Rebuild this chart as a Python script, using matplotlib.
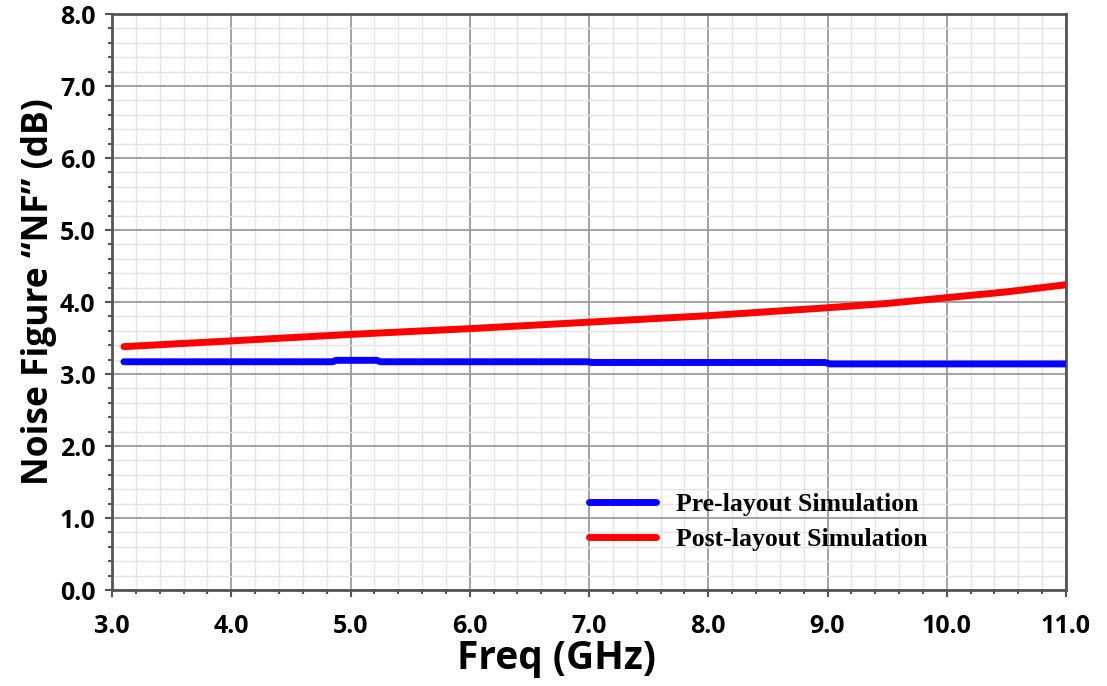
import matplotlib
matplotlib.use("Agg")
import matplotlib.pyplot as plt
from matplotlib.ticker import MultipleLocator

freq_post = [3.1, 4.0, 5.0, 6.0, 7.0, 8.0, 9.0, 9.5, 10.0, 10.5, 11.0]
nf_post = [3.38, 3.46, 3.55, 3.63, 3.72, 3.81, 3.92, 3.98, 4.06, 4.14, 4.24]

freq_pre = [3.1, 4.85, 4.88, 5.22, 5.25, 7.0, 7.02, 8.98, 9.02, 11.0]
nf_pre = [3.17, 3.17, 3.19, 3.19, 3.17, 3.17, 3.16, 3.16, 3.14, 3.14]

x_ticks = [3.0, 4.0, 5.0, 6.0, 7.0, 8.0, 9.0, 10.0, 11.0]
y_ticks = [0.0, 1.0, 2.0, 3.0, 4.0, 5.0, 6.0, 7.0, 8.0]

fig = plt.figure(figsize=(11.07, 6.86), dpi=100)
ax = fig.add_axes([112/1107, 1 - 590/686, (1066-112)/1107, (590-14)/686])

ax.plot(freq_pre, nf_pre, color="#0a00ff", lw=5, solid_capstyle="round", label="Pre-layout Simulation", zorder=3)
ax.plot(freq_post, nf_post, color="#ff0000", lw=5, solid_capstyle="round", label="Post-layout Simulation", zorder=3)

ax.set_xlim(3.0, 11.0)
ax.set_ylim(0.0, 8.0)
ax.set_xticks(x_ticks)
ax.set_yticks(y_ticks)
ax.set_xticklabels([f"{v:.1f}" for v in x_ticks])
ax.set_yticklabels([f"{v:.1f}" for v in y_ticks])
ax.xaxis.set_minor_locator(MultipleLocator(0.2))
ax.yaxis.set_minor_locator(MultipleLocator(0.2))
ax.grid(which="major", color="#9a9a9a", lw=1.3, zorder=1)
ax.grid(which="minor", color="#e4e4e4", lw=1.0, zorder=0)
ax.set_axisbelow(True)

for s in ax.spines.values():
    s.set_color("#555555")
    s.set_linewidth(2)

ax.tick_params(which="major", length=5, width=1.5, color="#555555")
ax.tick_params(which="minor", length=3, width=1.5, color="#555555")
ax.tick_params(axis="x", pad=12)
ax.tick_params(axis="y", pad=7)
for lab in ax.get_xticklabels() + ax.get_yticklabels():
    lab.set_fontfamily("Open Sans")
    lab.set_fontweight("bold")
    lab.set_fontsize(18)

ax.set_xlabel("Freq (GHz)", fontfamily="Open Sans", fontweight="bold", fontsize=28, labelpad=2)
ax.xaxis.set_label_coords((556-112)/(1066-112), -0.085)
ax.set_ylabel("Noise Figure \u201cNF\u201d (dB)", fontfamily="Open Sans", fontweight="bold", fontsize=25.5, labelpad=6)
ax.yaxis.set_label_coords(-0.058, (590-292)/(590-14))

leg = ax.legend(loc="upper left", bbox_to_anchor=((566-112)/(1066-112), (590-470)/(590-14)),
                frameon=False, handlelength=2.6, handletextpad=0.8, labelspacing=0.45,
                prop={"family": "Liberation Serif", "weight": "bold", "size": 18.5})

fig.savefig("out.png", dpi=100)
